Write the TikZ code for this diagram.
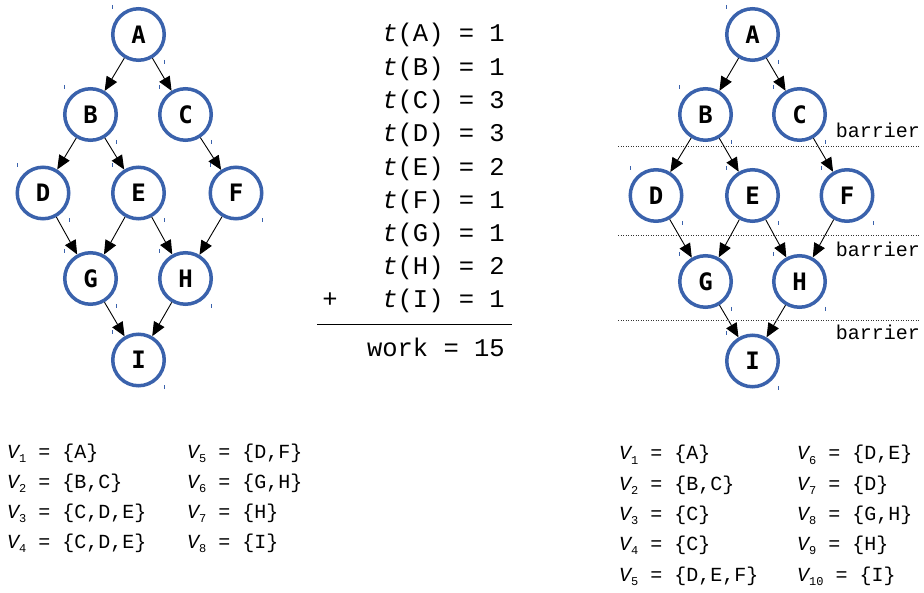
\documentclass[tikz,border=0pt]{standalone}
\usepackage{fontspec}
\setmonofont{Liberation Mono}
\newfontfamily\lblfont{DejaVu Sans Mono}
\usetikzlibrary{arrows.meta}
\definecolor{nodeblue}{RGB}{58,98,172}
\newcommand{\vsub}[1]{{\itshape V}\raisebox{-4.5pt}{\fontsize{12}{12}\selectfont #1}}
\newcommand{\tfn}{{\itshape t}}
\begin{document}
\begin{tikzpicture}[x=1pt,y=-1pt,
  vert/.style={circle,draw=nodeblue,line width=3.5pt,minimum size=51.5pt,inner sep=0pt,
    font=\lblfont\bfseries\fontsize{24}{24}\selectfont},
  edge/.style={line width=0.9pt,-{Triangle[length=14pt,width=12pt]}},
  mono/.style={font=\ttfamily\fontsize{20}{24}\selectfont,inner sep=0pt},
  bigmono/.style={font=\ttfamily\fontsize{25.5}{30}\selectfont,inner sep=0pt},
  tickm/.style={draw=nodeblue,line width=0.8pt},
  barrierline/.style={draw=black!80,line width=0.9pt,dash pattern=on 1pt off 1.5pt}]
\useasboundingbox (0,0) rectangle (924,593);
% left graph
\node[vert] (A) at (138.5,34.5) {A};
\node[vert] (B) at (90.5,114.5) {B};
\node[vert] (C) at (185.5,114.5) {C};
\node[vert] (D) at (43,193) {D};
\node[vert] (E) at (138.5,193) {E};
\node[vert] (F) at (236,193) {F};
\node[vert] (G) at (90.5,278.5) {G};
\node[vert] (H) at (185.5,278.5) {H};
\node[vert] (I) at (138.5,360) {I};
% right graph
\node[vert] (rA) at (752.5,34.5) {A};
\node[vert] (rB) at (705.5,114.5) {B};
\node[vert] (rC) at (799.5,114.5) {C};
\node[vert] (rD) at (656,195.5) {D};
\node[vert] (rE) at (752.5,195.5) {E};
\node[vert] (rF) at (847,195.5) {F};
\node[vert] (rG) at (705.5,281.5) {G};
\node[vert] (rH) at (799.5,281.5) {H};
\node[vert] (rI) at (752.5,361) {I};
\foreach \p in {,r}{
  \draw[edge] (\p A) -- (\p B);
  \draw[edge] (\p A) -- (\p C);
  \draw[edge] (\p B) -- (\p D);
  \draw[edge] (\p B) -- (\p E);
  \draw[edge] (\p C) -- (\p F);
  \draw[edge] (\p D) -- (\p G);
  \draw[edge] (\p E) -- (\p G);
  \draw[edge] (\p E) -- (\p H);
  \draw[edge] (\p F) -- (\p H);
  \draw[edge] (\p G) -- (\p I);
  \draw[edge] (\p H) -- (\p I);
  \foreach \n in {A,B,C,D,E,F,G,H,I}{
    \draw[tickm] (\p\n.west |- \p\n.north) ++(1.5,-2) -- ++(0,4);
    \draw[tickm] (\p\n.east |- \p\n.south) ++(-1.5,-2) -- ++(0,4);
  }
}
% barriers
\coordinate (b1s) at (618,146.5); \coordinate (b1e) at (920,146.5);
\coordinate (b2s) at (618,235.5); \coordinate (b2e) at (920,235.5);
\coordinate (b3s) at (618,320.5); \coordinate (b3e) at (920,320.5);
\draw[barrierline] (b1s) -- (b1e);
\draw[barrierline] (b2s) -- (b2e);
\draw[barrierline] (b3s) -- (b3e);
\node[mono,anchor=base east] (bar1) at (920,138) {barrier};
\node[mono,anchor=base east] (bar2) at (920,257) {barrier};
\node[mono,anchor=base east] (bar3) at (920,340) {barrier};
% work sum
\node[bigmono,anchor=base east] (tA) at (505,42) {\tfn(A) = 1};
\node[bigmono,anchor=base east] (tB) at (505,75.3) {\tfn(B) = 1};
\node[bigmono,anchor=base east] (tC) at (505,108.6) {\tfn(C) = 3};
\node[bigmono,anchor=base east] (tD) at (505,142) {\tfn(D) = 3};
\node[bigmono,anchor=base east] (tE) at (505,175.2) {\tfn(E) = 2};
\node[bigmono,anchor=base east] (tF) at (505,208.5) {\tfn(F) = 1};
\node[bigmono,anchor=base east] (tG) at (505,241.8) {\tfn(G) = 1};
\node[bigmono,anchor=base east] (tH) at (505,275) {\tfn(H) = 2};
\node[bigmono,anchor=base east] (tI) at (505,308) {\tfn(I) = 1};
\node[bigmono,anchor=base] (plus) at (330,308) {+};
\coordinate (rule1) at (317,324.5); \coordinate (rule2) at (512,324.5);
\draw[line width=1.8pt] (rule1) -- (rule2);
\node[bigmono,anchor=base east] (work) at (505,357) {work = 15};
% left sets
\node[mono,anchor=base west] (l1) at (7,458) {\vsub{1} = \{A\}};
\node[mono,anchor=base west] (l2) at (7,488) {\vsub{2} = \{B,C\}};
\node[mono,anchor=base west] (l3) at (7,518) {\vsub{3} = \{C,D,E\}};
\node[mono,anchor=base west] (l4) at (7,548) {\vsub{4} = \{C,D,E\}};
\node[mono,anchor=base west] (l5) at (187,458) {\vsub{5} = \{D,F\}};
\node[mono,anchor=base west] (l6) at (187,488) {\vsub{6} = \{G,H\}};
\node[mono,anchor=base west] (l7) at (187,518) {\vsub{7} = \{H\}};
\node[mono,anchor=base west] (l8) at (187,548) {\vsub{8} = \{I\}};
% right sets
\node[mono,anchor=base west] (r1) at (619,460) {\vsub{1} = \{A\}};
\node[mono,anchor=base west] (r2) at (619,490) {\vsub{2} = \{B,C\}};
\node[mono,anchor=base west] (r3) at (619,520) {\vsub{3} = \{C\}};
\node[mono,anchor=base west] (r4) at (619,550) {\vsub{4} = \{C\}};
\node[mono,anchor=base west] (r5) at (619,581) {\vsub{5} = \{D,E,F\}};
\node[mono,anchor=base west] (r6) at (797,460) {\vsub{6} = \{D,E\}};
\node[mono,anchor=base west] (r7) at (797,490) {\vsub{7} = \{D\}};
\node[mono,anchor=base west] (r8) at (797,520) {\vsub{8} = \{G,H\}};
\node[mono,anchor=base west] (r9) at (797,550) {\vsub{9} = \{H\}};
\node[mono,anchor=base west] (r10) at (797,581) {\vsub{10} = \{I\}};
\end{tikzpicture}
\end{document}
